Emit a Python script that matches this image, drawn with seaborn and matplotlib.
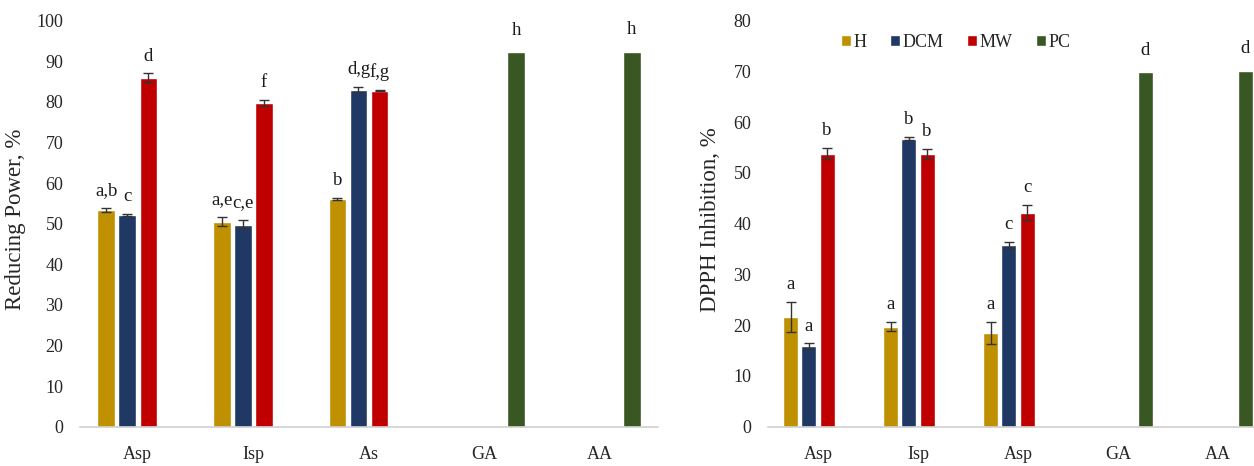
import numpy as np
import pandas as pd
import matplotlib
matplotlib.use("Agg")
import matplotlib.pyplot as plt
import seaborn as sns

# ---------------- data ----------------
series = ["H", "DCM", "MW", "PC"]
colors = ["#BF9000", "#203864", "#C00000", "#385723"]

# Left chart: Reducing Power, %
rp_categories = ["Asp", "Isp", "As", "GA", "AA"]
rp_H = [53.4, 50.5, 56.1, None, None]
rp_DCM = [52.1, 49.8, 83.0, None, None]
rp_MW = [86.0, 79.7, 82.8, None, None]
rp_PC = [None, None, None, 92.2, 92.4]
rp_H_err = [0.5, 1.1, 0.2, None, None]
rp_DCM_err = [0.3, 1.1, 0.6, None, None]
rp_MW_err = [1.0, 0.8, 0.2, None, None]
rp_PC_err = [None, None, None, 0.0, 0.0]
rp_H_lbl = ["a,b", "a,e", "b", None, None]
rp_DCM_lbl = ["c", "c,e", "d,g", None, None]
rp_MW_lbl = ["d", "f", "f,g", None, None]
rp_PC_lbl = [None, None, None, "h", "h"]

# Right chart: DPPH Inhibition, %
dp_categories = ["Asp", "Isp", "Asp ", "GA", "AA"]
dp_tick_labels = ["Asp", "Isp", "Asp", "GA", "AA"]
dp_H = [21.6, 19.7, 18.4, None, None]
dp_DCM = [15.9, 56.7, 35.8, None, None]
dp_MW = [53.8, 53.8, 42.2, None, None]
dp_PC = [None, None, None, 69.8, 70.1]
dp_H_err = [3.0, 0.9, 2.2, None, None]
dp_DCM_err = [0.5, 0.3, 0.6, None, None]
dp_MW_err = [1.1, 1.0, 1.5, None, None]
dp_PC_err = [None, None, None, 0.0, 0.0]
dp_H_lbl = ["a", "a", "a", None, None]
dp_DCM_lbl = ["a", "b", "c", None, None]
dp_MW_lbl = ["b", "b", "c", None, None]
dp_PC_lbl = [None, None, None, "d", "d"]


def build(cats, vals, errs, lbls):
    rows = []
    for s, v, e, l in zip(series, vals, errs, lbls):
        for c, vv, ee, ll in zip(cats, v, e, l):
            if vv is not None:
                rows.append(dict(cat=c, series=s, value=vv, err=ee, lbl=ll))
    return pd.DataFrame(rows)


rp_df = build(rp_categories, [rp_H, rp_DCM, rp_MW, rp_PC],
              [rp_H_err, rp_DCM_err, rp_MW_err, rp_PC_err],
              [rp_H_lbl, rp_DCM_lbl, rp_MW_lbl, rp_PC_lbl])
dp_df = build(dp_categories, [dp_H, dp_DCM, dp_MW, dp_PC],
              [dp_H_err, dp_DCM_err, dp_MW_err, dp_PC_err],
              [dp_H_lbl, dp_DCM_lbl, dp_MW_lbl, dp_PC_lbl])

# ---------------- style ----------------
sns.set_theme(style="white")
plt.rcParams["font.family"] = ["Liberation Serif", "DejaVu Serif"]
FS = 13

fig = plt.figure(figsize=(12.54, 4.66), dpi=100)
ax1 = fig.add_axes([80 / 1254, 39.3 / 466, 578 / 1254, 406 / 466])
ax2 = fig.add_axes([768 / 1254, 39.3 / 466, 500 / 1254, 406 / 466])


def draw(ax, df, cats, ticklabels, ymax, ylabel, legend):
    sns.barplot(data=df, x="cat", y="value", hue="series", order=cats,
                hue_order=series, palette=colors, width=0.73, gap=0.17,
                errorbar=None, saturation=1, legend=legend, ax=ax)
    for cont, s in zip(ax.containers, series):
        sub = df[df["series"] == s].set_index("cat")
        for patch in cont.patches:
            xc = patch.get_x() + patch.get_width() / 2
            h = patch.get_height()
            cat = cats[int(round(xc))]
            row = sub.loc[cat]
            e = row["err"]
            top = h
            if e and e > 0:
                ax.errorbar(xc, h, yerr=e, fmt="none", ecolor="#333333",
                            elinewidth=1, capsize=3.5, capthick=1)
                top = h + e
            else:
                top = h + ymax * 0.012
            if row["lbl"]:
                ax.text(xc, top + ymax * 0.022, row["lbl"], ha="center",
                        va="bottom", fontsize=FS + 0.5, color="#1a1a1a")
    ax.set_ylim(0, ymax)
    ax.set_xlim(-0.5, len(cats) - 0.5)
    ax.set_yticks(np.arange(0, ymax + 1, 10))
    ax.set_xticks(range(len(cats)))
    ax.set_xticklabels(ticklabels)
    ax.tick_params(axis="both", length=0, labelsize=FS, colors="#262626")
    ax.tick_params(axis="y", pad=12)
    ax.tick_params(axis="x", pad=14)
    ax.set_xlabel("")
    ax.set_ylabel(ylabel, fontsize=16.5, color="#262626")
    for sp in ["top", "right", "left"]:
        ax.spines[sp].set_visible(False)
    ax.spines["bottom"].set_color("#D0D0D0")
    ax.spines["bottom"].set_linewidth(1.2)
    ax.grid(False)


draw(ax1, rp_df, rp_categories, rp_categories, 100, "Reducing Power, %", False)
draw(ax2, dp_df, dp_categories, dp_tick_labels, 80, "DPPH Inhibition, %", True)

ax1.yaxis.set_label_coords((26 - 80) / 578, 0.51)
ax2.yaxis.set_label_coords((721 - 768) / 500, 0.51)

handles, labels = ax2.get_legend_handles_labels()
ax2.legend(handles, labels, loc="center", bbox_to_anchor=(0.376, 0.947),
           ncol=4, frameon=False, fontsize=FS, handlelength=0.55,
           handleheight=0.55, handletextpad=0.15, columnspacing=1.3,
           borderpad=0)

fig.savefig("out.png", dpi=100, facecolor="white")
